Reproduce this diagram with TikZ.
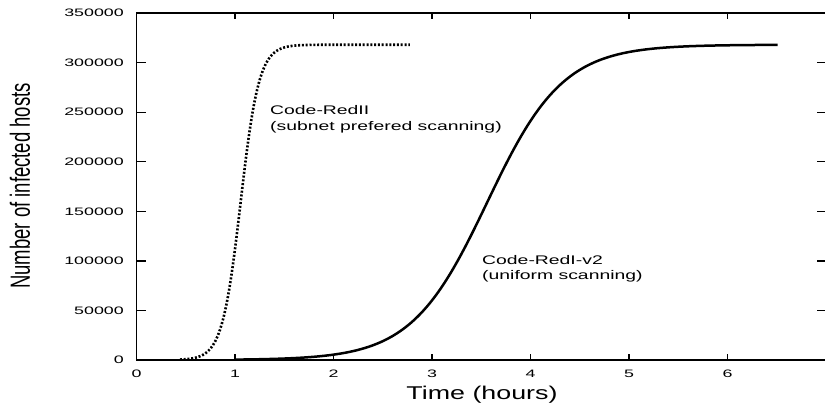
\documentclass[tikz,border=0pt]{standalone}
\usepackage{fontspec}
\setmainfont{Liberation Sans}
\usepackage{graphicx}
% horizontally widened text, as in the stretched gnuplot output
\newcommand\wide[2][1.6]{\scalebox{#1}[1]{#2}}
\begin{document}
\begin{tikzpicture}[x=1pt,y=-1pt,
  frame/.style={line width=1.4pt},
  tickmark/.style={line width=1.3pt},
  ticklabel/.style={inner sep=0pt,font=\fontsize{10.8}{12}\selectfont},
  curvelabel/.style={inner sep=0pt,anchor=base west,font=\fontsize{12.5}{15}\selectfont},
  axislabel/.style={inner sep=0pt,font=\fontsize{18.5}{22}\selectfont},
  redtwo/.style={line width=2.6pt,dash pattern=on 2pt off 1.8pt},
  redone/.style={line width=2.5pt}]
\useasboundingbox (0,0) rectangle (825,408);

% plot frame: time 0..7 h maps to x = 136.5 + 98.5 t, hosts 0..350000 maps to y = 360 .. 13
\draw[frame] (136.5,13) rectangle (826,360);

% time ticks (bottom and top) with labels
\foreach \t in {1,...,6}{
  \draw[tickmark] ({136.5+98.5*\t},360) -- ++(0,-6);
  \draw[tickmark] ({136.5+98.5*\t},13) -- ++(0,6);
}
\foreach \t in {0,...,6}{
  \node[ticklabel] (xt\t) at ({136.5+98.5*\t},374) {\wide[1.65]{\t}};
}

% host-count ticks (left and right) with labels
\foreach \v in {1,...,6}{
  \draw[tickmark] (136.5,{360-49.57*\v}) -- ++(9,0);
  \draw[tickmark] (826,{360-49.57*\v}) -- ++(-9,0);
}
\foreach \v/\lab in {0/0,1/50000,2/100000,3/150000,4/200000,5/250000,6/300000,7/350000}{
  \node[ticklabel,anchor=east] (yt\v) at (124,{360-49.57*\v}) {\wide[1.65]{\lab}};
}

% axis titles
\node[axislabel] (ylab) at (20,186) {\wide[1.5]{\rotatebox{90}{Number of infected hosts}}};
\node[axislabel,anchor=base] (xlab) at (482,399) {\wide[1.45]{Time (hours)}};

% logistic growth curves
\draw[redtwo] plot[domain=0.44:2.78,samples=300]
  ({136.5+98.5*\x},{360-315.27/(1+exp(-10.7*(\x-1.057)))});
\draw[redone] plot[domain=1:6.51,samples=250]
  ({136.5+98.5*\x},{360-315.27/(1+exp(-2.6*(\x-3.56)))});

% curve labels
\node[curvelabel] (l2a) at (270,114) {\wide[1.55]{Code-RedII}};
\node[curvelabel] (l2b) at (270,130) {\wide[1.55]{(subnet prefered scanning)}};
\node[curvelabel] (l1a) at (482,264) {\wide[1.55]{Code-RedI-v2}};
\node[curvelabel] (l1b) at (482,279) {\wide[1.55]{(uniform scanning)}};
\end{tikzpicture}
\end{document}
